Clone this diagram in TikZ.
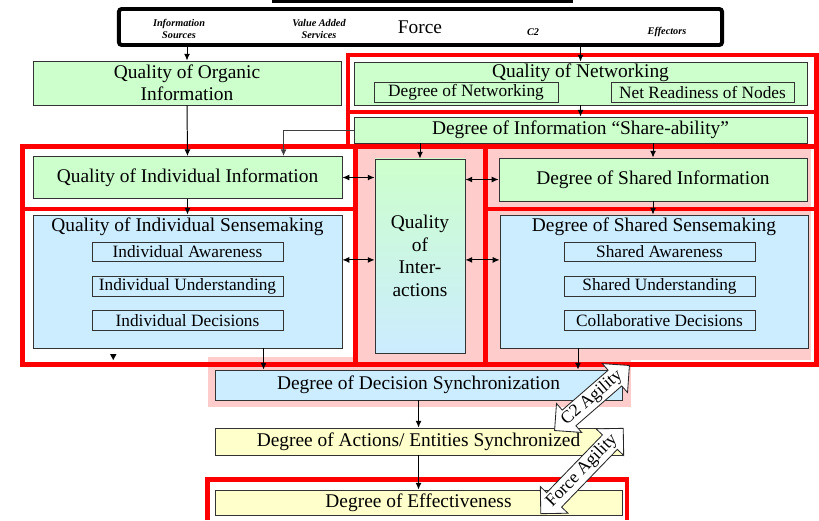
\documentclass[tikz,border=0pt]{standalone}
\usepackage{fontspec}
\setmainfont{Liberation Serif}
\usepackage{tikz}
\usetikzlibrary{positioning,arrows.meta,calc,shapes.arrows}
\definecolor{grn}{RGB}{204,255,204}
\definecolor{blu}{RGB}{204,236,255}
\definecolor{ylw}{RGB}{255,255,204}
\definecolor{pnk}{RGB}{255,204,204}
\tikzset{
  box/.style   ={draw=black!80, line width=0.6pt, rectangle, align=center, inner sep=0pt, font=\fontsize{13.8}{16}\selectfont},
  gbox/.style  ={box, fill=grn},
  bbox/.style  ={box, fill=blu},
  ybox/.style  ={box, fill=ylw},
  sub/.style   ={draw=black!80, line width=0.6pt, rectangle, inner sep=0pt, minimum height=0.48cm, font=\fontsize{12.3}{14}\selectfont},
  ttl/.style   ={inner sep=0pt, font=\fontsize{13.8}{16}\selectfont},
  lbl/.style   ={inner sep=0pt, align=center, font=\fontsize{7.3}{8.6}\selectfont\bfseries\itshape},
  frame/.style ={draw=red, line width=3.5pt},
  arr/.style   ={-{Latex[length=1.7mm,width=1.5mm]}, line width=0.7pt},
  dbl/.style   ={{Latex[length=1.7mm,width=1.5mm]}-{Latex[length=1.7mm,width=1.5mm]}, line width=0.7pt},
  agil/.style  ={double arrow, draw=black!85, fill=white, line width=0.6pt, inner xsep=1pt, inner ysep=1.4pt, double arrow head extend=0.22cm, font=\fontsize{12.5}{14}\selectfont},
}
\begin{document}
\begin{tikzpicture}[x=0.025cm, y=-0.025cm]
  \useasboundingbox (0,0) rectangle (819,520);
  % pink areas and red frames go underneath
  \fill[pnk] (355,147) rectangle (486,363);
  \fill[pnk] (486,147) rectangle (811,360);
  \fill[pnk] (208,357) rectangle (631,407);
  \draw[frame] (348,55) rectangle (816.5,112);
  \draw[frame] (348,112) rectangle (816.5,146.5);
  \draw[frame] (22.5,146.5) rectangle (355.5,209);
  \draw[frame] (22.5,209) rectangle (355.5,364.5);
  \draw[frame] (355.5,146.5) rectangle (485.5,364.5);
  \draw[frame] (485.5,146.5) rectangle (816.5,209);
  \draw[frame] (485.5,209) rectangle (816.5,364.5);
  \draw[frame] (207.5,520) |- (627,479.5) -- (627,520);
  \fill (272,-2) rectangle (573,3.3);

  % the force
  \node[box, draw=black, line width=2.8pt, rounded corners=2pt, minimum width=15.075cm, minimum height=0.9cm] (force) at (420.5,27) {};
  \node[lbl] (src) at (179,28.5) {Information\\Sources};
  \node[lbl] (vas) at (319,29)   {Value Added\\Services};
  \node[ttl] (frc) at (420,27)   {Force};
  \node[lbl] (c2)  at (533,32)   {C2};
  \node[lbl] (eff) at (667,32)   {Effectors};

  % information and networking
  \node[gbox, minimum width=7.7cm, minimum height=1.1cm] (org) at (187,83) {Quality of Organic\\Information};
  \node[gbox, minimum width=11.325cm, minimum height=1.075cm] (netw) at (580.5,83.5) {};
  \node[ttl] (netwt) at (580.5,73) {Quality of Networking};
  \node[sub, minimum width=4.6cm]   (degnet) at (466,92.5)   {Degree of Networking};
  \node[sub, minimum width=4.575cm] (netrdy) at (702.5,92.5) {Net Readiness of Nodes};
  \node[gbox, minimum width=11.325cm, minimum height=0.65cm] (share) at (580.5,130) {Degree of Information “Share-ability”};
  \node[gbox, minimum width=7.725cm, minimum height=1.05cm] (indinf) at (187.5,177.5) {Quality of Individual Information};
  \node[box, top color=grn, bottom color=blu, minimum width=2.25cm, minimum height=4.85cm] (inter) at (420,256) {Quality\\of\\Inter-\\actions};
  \node[gbox, minimum width=7.7cm, minimum height=1.075cm] (shinf) at (653,179.5) {Degree of Shared Information};

  % sensemaking
  \node[bbox, minimum width=7.725cm, minimum height=3.325cm] (indsen) at (187.5,281.5) {};
  \node[ttl] (indsent) at (187.5,227) {Quality of Individual Sensemaking};
  \node[sub, minimum width=4.775cm] (indaw) at (187.5,252)   {Individual Awareness};
  \node[sub, minimum width=4.775cm] (indun) at (187.5,286.5) {Individual Understanding};
  \node[sub, minimum width=4.775cm] (inddc) at (187.5,320.5) {Individual Decisions};
  \node[bbox, minimum width=7.7cm, minimum height=3.325cm] (shsen) at (654,281.5) {};
  \node[ttl] (shsent) at (654,227) {Degree of Shared Sensemaking};
  \node[sub, minimum width=4.775cm] (shaw) at (659.5,252)   {Shared Awareness};
  \node[sub, minimum width=4.775cm] (shun) at (659.5,286.5) {Shared Understanding};
  \node[sub, minimum width=4.775cm] (shdc) at (659.5,320.5) {Collaborative Decisions};

  % synchronization and effects
  \node[bbox, minimum width=10.175cm, minimum height=0.75cm]  (decsync) at (418.5,385)   {Degree of Decision Synchronization};
  \node[ybox, minimum width=10.175cm, minimum height=0.675cm] (actsync) at (418.5,441.5) {Degree of Actions/ Entities Synchronized};
  \node[ybox, minimum width=10.175cm, minimum height=0.625cm] (effect)  at (418.5,502.5) {Degree of Effectiveness};

  \draw[arr] (force.south -| org.north) -- (org.north);
  \draw[arr] (force.south -| netw.north) -- (netw.north);
  \draw[arr] (netw.south) -- (share.north);
  \draw[arr] (org.south) -- (indinf.north);
  \draw[arr, draw=black!75] (share.west) -| ([xshift=2.4cm]indinf.north);
  \draw[arr] (share.south -| inter.north) -- (inter.north);
  \draw[arr] (share.south -| shinf.north) -- (shinf.north);
  \draw[dbl] (indinf.east) -- (indinf.east -| inter.west);
  \draw[dbl] (inter.east |- shinf.west) -- (shinf.west);
  \draw[dbl] ([yshift=0.54cm]indsen.east) -- ([yshift=0.54cm]indsen.east -| inter.west);
  \draw[dbl] ([yshift=0.54cm]shsen.west -| inter.east) -- ([yshift=0.54cm]shsen.west);
  \draw[arr] (indinf.south) -- (indsen.north);
  \draw[arr] (shinf.south) -- (shinf.south |- shsen.north);
  \draw[arr] ([xshift=1.9cm]indsen.south) -- ([xshift=1.9cm]indsen.south |- decsync.north);
  \draw[arr] ([xshift=-1.9cm]shsen.south) -- ([xshift=-1.9cm]shsen.south |- decsync.north);
  \draw[arr] (decsync.south) -- (actsync.north);
  \draw[arr] (actsync.south) -- (effect.north);
  \fill (110,354) -- (116.5,354) -- (113.25,360) -- cycle;

  % agility arrows
  \node[agil, rotate=41, minimum height=2.45cm] (c2ag)  at (592,398) {C2 Agility};
  \node[agil, rotate=46, minimum height=2.9cm]  (frcag) at (582,471) {Force Agility};
\end{tikzpicture}
\end{document}
